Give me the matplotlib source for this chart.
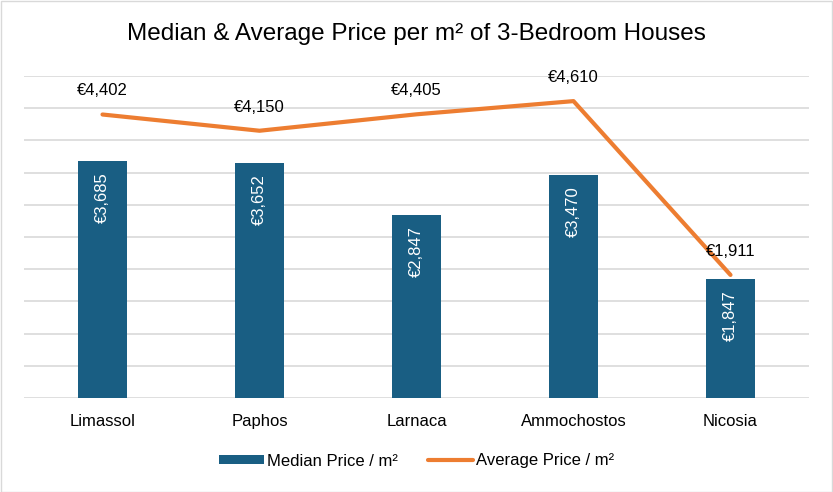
import matplotlib
matplotlib.use('Agg')
import matplotlib.pyplot as plt
from matplotlib.patches import Patch
from matplotlib.lines import Line2D
import numpy as np

plt.rcParams['font.family'] = ['Liberation Sans Narrow', 'Liberation Sans', 'DejaVu Sans']

cities = ['Limassol', 'Paphos', 'Larnaca', 'Ammochostos', 'Nicosia']
median_price = [3685, 3652, 2847, 3470, 1847]
average_price = [4402, 4150, 4405, 4610, 1911]

bar_color = '#195E83'
line_color = '#ED7D31'

fig = plt.figure(figsize=(8.33, 4.92), dpi=100)
ax = fig.add_axes([24 / 833, 1 - 398 / 492, 785 / 833, 322 / 492])

x = np.arange(len(cities))
ax.bar(x, median_price, width=0.31, color=bar_color, zorder=2)
ax.plot(x, average_price, color=line_color, linewidth=3, solid_capstyle='round', zorder=3)

# data labels
for xi, v in zip(x, median_price):
    ax.text(xi, v - 180, f'€{v:,}', rotation=90, ha='center', va='top',
            color='white', fontsize=12)
for xi, v in zip(x, average_price):
    ax.annotate(f'€{v:,}', (xi, v), xytext=(0, 17), textcoords='offset points',
                ha='center', va='center', fontsize=12, color='#000000')

ax.set_xlim(-0.5, len(cities) - 0.5)
ax.set_ylim(0, 5000)
ax.set_yticks(np.arange(0, 5001, 500))
ax.yaxis.grid(True, color='#D9D9D9', linewidth=1.2, zorder=0)
ax.set_axisbelow(True)
ax.tick_params(axis='y', left=False, labelleft=False)
ax.tick_params(axis='x', bottom=False, labelsize=12, pad=8)
ax.set_xticks(x)
ax.set_xticklabels(cities)
for s in ax.spines.values():
    s.set_visible(False)

fig.text(0.5, 1 - 34 / 492, 'Median & Average Price per m² of 3-Bedroom Houses',
         ha='center', va='center', fontsize=17.5)

handles = [Patch(facecolor=bar_color, label='Median Price / m²'),
           Line2D([0], [0], color=line_color, linewidth=3, solid_capstyle='round',
                  label='Average Price / m²')]
fig.legend(handles=handles, loc='center', bbox_to_anchor=(0.5, 1 - 461 / 492), ncol=2,
           frameon=False, fontsize=12, handlelength=2.7, handleheight=0.5,
           columnspacing=1.8, handletextpad=0.2)

fig.patches.append(plt.Rectangle((0.5 / 833, 0.5 / 492), 1 - 1.5 / 833, 1 - 1.5 / 492,
                                 transform=fig.transFigure, fill=False,
                                 edgecolor='#D9D9D9', linewidth=1))

fig.savefig('out.png', dpi=100, facecolor='white')
